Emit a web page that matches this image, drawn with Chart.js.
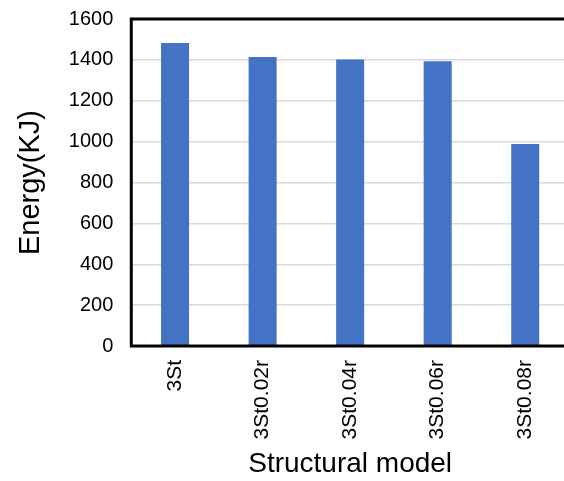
<!DOCTYPE html>
<html>
<head>
<meta charset="utf-8">
<script src="https://cdn.jsdelivr.net/npm/chart.js@4.4.1/dist/chart.umd.min.js"></script>
<style>
  html, body { margin: 0; padding: 0; background: #fff; overflow: hidden; }
  #wrap { width: 572px; height: 481px; }
</style>
</head>
<body>
<div id="wrap"><canvas id="c" width="572" height="481"></canvas></div>
<script>
// Absorbed energy per structural model
const models = ['3St', '3St0.02r', '3St0.04r', '3St0.06r', '3St0.08r'];
const energyKJ = [1483, 1414, 1402, 1393, 989];
const yTicks = [0, 200, 400, 600, 800, 1000, 1200, 1400, 1600];

const FONT = '"Liberation Sans", Arial, sans-serif';

// Black frame around the plot area
const framePlugin = {
  id: 'frame',
  afterDatasetsDraw(chart) {
    const { ctx, chartArea: a } = chart;
    ctx.save();
    ctx.strokeStyle = '#000';
    ctx.lineWidth = 3;
    ctx.strokeRect(a.left, a.top, a.right - a.left, a.bottom - a.top);
    ctx.restore();
  }
};

// let the layout padding alone decide where the plot area starts at the top
const noTopPad = scale => { scale.paddingTop = 0; };

new Chart(document.getElementById('c'), {
  type: 'bar',
  data: {
    labels: models,
    datasets: [{
      data: energyKJ,
      backgroundColor: '#4472C4',
      borderWidth: 0,
      barPercentage: 0.32,
      categoryPercentage: 1.0
    }]
  },
  options: {
    responsive: false,
    animation: false,
    layout: { padding: { top: 19, right: 3, bottom: 0, left: 14 } },
    plugins: {
      legend: { display: false },
      tooltip: { enabled: false }
    },
    scales: {
      x: {
        afterFit: noTopPad,
        grid: { display: false },
        border: { display: false },
        ticks: {
          color: '#000',
          font: { family: FONT, size: 21 },
          minRotation: 90,
          maxRotation: 90,
          padding: 6
        },
        title: {
          display: true,
          text: 'Structural model',
          color: '#000',
          font: { family: FONT, size: 28 },
          padding: { top: 2, bottom: 0 }
        }
      },
      y: {
        afterFit: noTopPad,
        min: 0,
        max: 1600,
        afterBuildTicks(scale) { scale.ticks = yTicks.map(v => ({ value: v })); },
        grid: { color: '#d9d9d9', lineWidth: 1.5, drawTicks: false },
        border: { display: false },
        ticks: {
          color: '#000',
          font: { family: FONT, size: 20 },
          padding: 18,
          callback: v => String(v)
        },
        title: {
          display: true,
          text: 'Energy(KJ)',
          color: '#000',
          font: { family: FONT, size: 29 },
          padding: { top: 0, bottom: 2 }
        }
      }
    }
  },
  plugins: [framePlugin]
});
</script>
</body>
</html>
